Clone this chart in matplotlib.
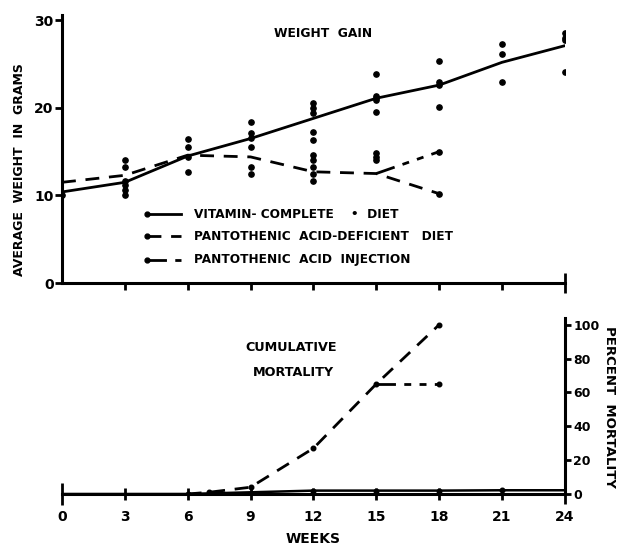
import matplotlib
matplotlib.use("Agg")
import matplotlib.pyplot as plt
from matplotlib.ticker import FixedLocator

plt.rcParams['font.family'] = ['DejaVu Sans']
plt.rcParams['font.weight'] = 'bold'

# ---- weight gain (grams) ----
weeks_main = [0, 3, 6, 9, 12, 15, 18, 21, 24]
complete_mean = [10.4, 11.5, 14.5, 16.5, 18.8, 21.1, 22.6, 25.2, 27.1]

deficient_weeks = [0, 3, 6, 9, 12, 15, 18]
deficient_mean = [11.5, 12.3, 14.6, 14.4, 12.7, 12.5, 10.2]

injection_weeks = [15, 18]
injection_mean = [12.5, 15.0]

# individual animal weights
indiv_weeks = ([0] +
               [3] * 6 +
               [6] * 4 +
               [9] * 6 +
               [12] * 10 +
               [15] * 8 +
               [18] * 4 +
               [21] * 3 +
               [24] * 4)
indiv_weight = ([10.0] +
                [14.0, 13.3, 11.7, 11.2, 10.6, 10.0] +
                [16.5, 15.5, 14.4, 12.7] +
                [18.4, 17.1, 16.6, 15.5, 13.2, 12.5] +
                [20.5, 20.0, 19.4, 17.2, 16.3, 14.6, 14.0, 13.2, 12.5, 11.7] +
                [23.9, 21.4, 21.1, 20.9, 19.5, 14.8, 14.4, 14.0] +
                [25.4, 22.9, 22.6, 20.1] +
                [27.3, 26.2, 22.9] +
                [28.6, 28.0, 27.7, 24.1])

# ---- cumulative mortality (%) ----
mort_complete_weeks = [0, 6, 9, 12, 15, 18, 21, 24]
mort_complete = [0, 0, 1, 2, 2, 2, 2.2, 2.2]

mort_deficient_weeks = [6, 7, 9, 12, 15, 18]
mort_deficient = [0, 1, 4, 27, 65, 100]

mort_injection_weeks = [15, 18]
mort_injection = [65, 65]

week_ticks = [0, 3, 6, 9, 12, 15, 18, 21, 24]
weight_ticks = [0, 10, 20, 30]
mort_ticks = [0, 20, 40, 60, 80, 100]

DEF_DASH = (0, (5, 3.5))
INJ_DASH = (0, (7, 3, 2.5, 3, 2.5, 3))
DOT = 3.8

fig = plt.figure(figsize=(6.2, 5.45), dpi=100)

# ================= top panel =================
ax = fig.add_axes([0.100, 0.4807, 0.811, 0.4917])
ax.set_xlim(0, 24)
ax.set_ylim(0, 30.6)
for s in ['top', 'right']:
    ax.spines[s].set_visible(False)
for s in ['left', 'bottom']:
    ax.spines[s].set_linewidth(2.2)

ax.plot(weeks_main, complete_mean, color='black', lw=2.0, solid_capstyle='round')
ax.plot(deficient_weeks, deficient_mean, color='black', lw=2.0, linestyle=DEF_DASH)
ax.plot(injection_weeks, injection_mean, color='black', lw=2.0, linestyle=INJ_DASH)
ax.plot(indiv_weeks, indiv_weight, 'o', color='black', ms=DOT, mec='black')
ax.plot([deficient_weeks[-1], injection_weeks[-1]],
        [deficient_mean[-1], injection_mean[-1]], 'o', color='black', ms=DOT)

ax.xaxis.set_major_locator(FixedLocator(week_ticks[1:-1]))
ax.xaxis.set_minor_locator(FixedLocator([24]))
ax.tick_params(axis='x', which='major', direction='out', length=5, width=2, labelbottom=False)
ax.tick_params(axis='x', which='minor', direction='inout', length=14, width=2)
ax.set_yticks(weight_ticks)
ax.set_yticklabels([str(v) for v in weight_ticks])
ax.tick_params(axis='y', direction='out', length=5, width=2, pad=1, labelsize=10)
for lab in ax.get_yticklabels():
    lab.set_fontweight('bold')

ax.text(0.52, 0.93, 'WEIGHT  GAIN', transform=ax.transAxes, ha='center', va='center',
        fontsize=8.8, fontweight='bold')

# legend
leg_rows = [
    ('VITAMIN- COMPLETE    •  DIET', '-'),
    ('PANTOTHENIC  ACID-DEFICIENT   DIET', DEF_DASH),
    ('PANTOTHENIC  ACID  INJECTION', INJ_DASH),
]
row_y = [0.257, 0.174, 0.087]
for (label, ls), yy in zip(leg_rows, row_y):
    ax.plot([0.17, 0.237], [yy, yy], transform=ax.transAxes, color='black', lw=2,
            linestyle=ls, clip_on=False)
    ax.plot([0.17], [yy], 'o', transform=ax.transAxes, color='black', ms=3.5, clip_on=False)
    ax.text(0.262, yy, label, transform=ax.transAxes, ha='left', va='center',
            fontsize=8.7, fontweight='bold')

fig.text(20 / 620, 1 - 170 / 545, 'AVERAGE  WEIGHT  IN  GRAMS', rotation=90,
         ha='center', va='center', fontsize=9, fontweight='bold')

# ================= bottom panel =================
bx = fig.add_axes([0.100, 0.0936, 0.811, 0.3229])
bx.set_xlim(0, 24)
bx.set_ylim(0, 104)
for s in ['top', 'left']:
    bx.spines[s].set_visible(False)
for s in ['right', 'bottom']:
    bx.spines[s].set_linewidth(2.2)

bx.plot(mort_complete_weeks, mort_complete, color='black', lw=1.8)
bx.plot(mort_complete_weeks[3:-1], mort_complete[3:-1], 'o', color='black', ms=3.3)
bx.plot(mort_deficient_weeks, mort_deficient, color='black', lw=2.0, linestyle=DEF_DASH)
bx.plot(mort_deficient_weeks, mort_deficient, 'o', color='black', ms=3.3)
bx.plot(mort_injection_weeks, mort_injection, color='black', lw=2.0, linestyle=INJ_DASH)
bx.plot(mort_injection_weeks[-1:], mort_injection[-1:], 'o', color='black', ms=3.3)

bx.set_xticks(week_ticks)
bx.set_xticklabels([str(w) for w in week_ticks])
bx.tick_params(axis='x', direction='inout', length=9, width=2, pad=7, labelsize=10)
for lab in bx.get_xticklabels():
    lab.set_fontweight('bold')
bx.xaxis.get_major_ticks()[0].tick1line.set_markersize(16)
bx.xaxis.get_major_ticks()[-1].tick1line.set_markersize(14)

bx.yaxis.tick_right()
bx.set_yticks(mort_ticks)
bx.set_yticklabels([str(v) for v in mort_ticks])
bx.tick_params(axis='y', direction='out', length=4, width=2, pad=2, labelsize=9)
for lab in bx.get_yticklabels():
    lab.set_fontweight('bold')

bx.text(0.455, 0.835, 'CUMULATIVE', transform=bx.transAxes, ha='center', va='center',
        fontsize=9.2, fontweight='bold')
bx.text(0.46, 0.69, 'MORTALITY', transform=bx.transAxes, ha='center', va='center',
        fontsize=9.2, fontweight='bold')

bx.set_xlabel('WEEKS', fontsize=10, fontweight='bold', labelpad=6)
fig.text(610 / 620, 1 - 407 / 545, 'PERCENT  MORTALITY', rotation=-90,
         ha='center', va='center', fontsize=9.5, fontweight='bold')

fig.savefig('out.png', dpi=100, facecolor='white')
